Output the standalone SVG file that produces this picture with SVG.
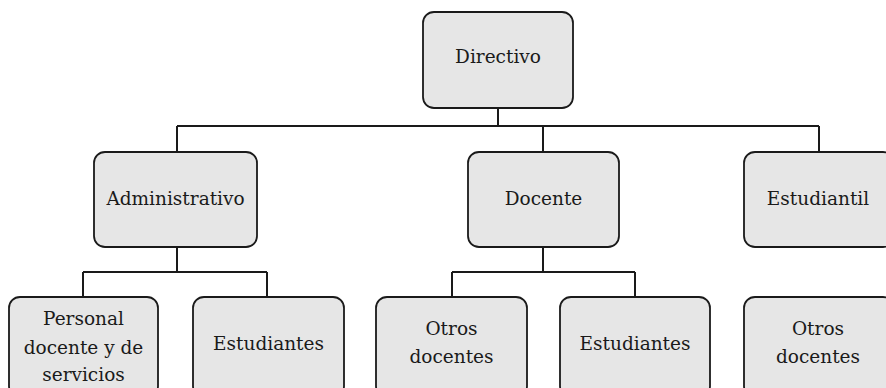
<svg xmlns="http://www.w3.org/2000/svg" width="886" height="388" viewBox="0 0 886 388">
<style>
.box{fill:#e6e6e6;stroke:#1a1a1a;stroke-width:1.8}
.lbl{font-family:'DejaVu Serif','Liberation Serif',serif;font-size:18.5px;fill:#1a1a1a;text-anchor:middle}
.con{fill:none;stroke:#1a1a1a;stroke-width:2}
</style>
<rect width="886" height="388" fill="#ffffff"/>
<g id="connectors">
<path class="con" d="M498 108V126M177 126H819M177 126V152M543 126V152M819 126V152"/>
<path class="con" d="M177 247V272M83 272H267M83 272V297M267 272V297"/>
<path class="con" d="M543 247V272M452 272H635M452 272V297M635 272V297"/>
</g>
<g id="directivo"><rect class="box" x="423" y="12" width="150" height="96" rx="11"/><text class="lbl" x="498" y="63">Directivo</text></g>
<g id="administrativo"><rect class="box" x="94" y="152" width="163" height="95" rx="11"/><text class="lbl" x="175.5" y="205">Administrativo</text></g>
<g id="docente"><rect class="box" x="468" y="152" width="151" height="95" rx="11"/><text class="lbl" x="543.5" y="205">Docente</text></g>
<g id="estudiantil"><rect class="box" x="744" y="152" width="150" height="95" rx="11"/><text class="lbl" x="818" y="205">Estudiantil</text></g>
<g id="personal"><rect class="box" x="9" y="297" width="149" height="100" rx="11"/><text class="lbl" x="83.5" y="325">Personal</text><text class="lbl" x="83.5" y="354">docente y de</text><text class="lbl" x="83.5" y="381">servicios</text></g>
<g id="estudiantes1"><rect class="box" x="193" y="297" width="151" height="100" rx="11"/><text class="lbl" x="268.5" y="350">Estudiantes</text></g>
<g id="otros1"><rect class="box" x="376" y="297" width="151" height="100" rx="11"/><text class="lbl" x="451.5" y="335">Otros</text><text class="lbl" x="451.5" y="363">docentes</text></g>
<g id="estudiantes2"><rect class="box" x="560" y="297" width="150" height="100" rx="11"/><text class="lbl" x="635" y="350">Estudiantes</text></g>
<g id="otros2"><rect class="box" x="744" y="297" width="150" height="100" rx="11"/><text class="lbl" x="818" y="335">Otros</text><text class="lbl" x="818" y="363">docentes</text></g>
</svg>
